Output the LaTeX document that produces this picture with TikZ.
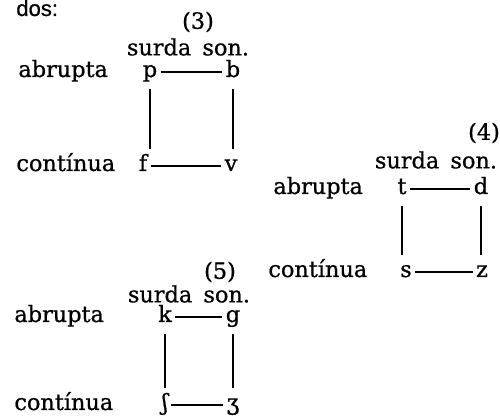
\documentclass[tikz,border=0pt]{standalone}
\usepackage{fontspec}
\setmainfont{DejaVu Serif}[FakeBold=0.8]
\newfontfamily\labelsans{Liberation Sans}[FakeBold=0.8]
\begin{document}
\begin{tikzpicture}[x=0.5pt, y=-0.5pt,
    every node/.style={font=\fontsize{11.2}{13}\selectfont, inner sep=1pt},
    feat/.style={anchor=base west},
    seg/.style={anchor=base, inner xsep=1.5pt, inner ysep=3pt, text height=1.5ex, text depth=0.5ex},
    tie/.style={line width=0.8pt, black}
]
\useasboundingbox (0,0) rectangle (500,416);
\node[anchor=base west, font=\labelsans\fontsize{11}{13}\selectfont] (dos) at (14,16) {dos:};

% (3)
\node (n3) at (198,22) {(3)};
\node (h3) at (188,47) {surda\enspace son.};
\node[feat] (a3) at (16,77) {abrupta};
\node[feat] (c3) at (14,171) {contínua};
\node[seg] (p) at (150,77) {p};
\node[seg] (b) at (233,77) {b};
\node[seg] (f) at (143,171) {f};
\node[seg] (v) at (231,171) {v};
\draw[tie] (p) -- (b);
\draw[tie] (f) -- (v);
\draw[tie] (p.south) -- (p.south |- f.north);
\draw[tie] (b.south) -- (b.south |- v.north);

% (4)
\node (n4) at (484,133) {(4)};
\node (h4) at (436,160) {surda\enspace son.};
\node[feat] (a4) at (271,194) {abrupta};
\node[feat] (c4) at (266,277) {contínua};
\node[seg] (t) at (402,194) {t};
\node[seg] (d) at (481,194) {d};
\node[seg] (s) at (406,277) {s};
\node[seg] (z) at (482,277) {z};
\draw[tie] (t) -- (d);
\draw[tie] (s) -- (z);
\draw[tie] (t.south) -- (t.south |- s.north);
\draw[tie] (d.south) -- (d.south |- z.north);

% (5)
\node (n5) at (220,272) {(5)};
\node (h5) at (189,294) {surda\enspace son.};
\node[feat] (a5) at (12,322) {abrupta};
\node[feat] (c5) at (12,410) {contínua};
\node[seg] (k) at (165,322) {k};
\node[seg] (g) at (233,322) {g};
\node[seg] (sh) at (165,410) {ʃ};
\node[seg] (zh) at (233,410) {ʒ};
\draw[tie] (k) -- (g);
\draw[tie] (sh) -- (zh);
\draw[tie] (k.south) -- (k.south |- sh.north);
\draw[tie] (g.south) -- (g.south |- zh.north);
\end{tikzpicture}
\end{document}
